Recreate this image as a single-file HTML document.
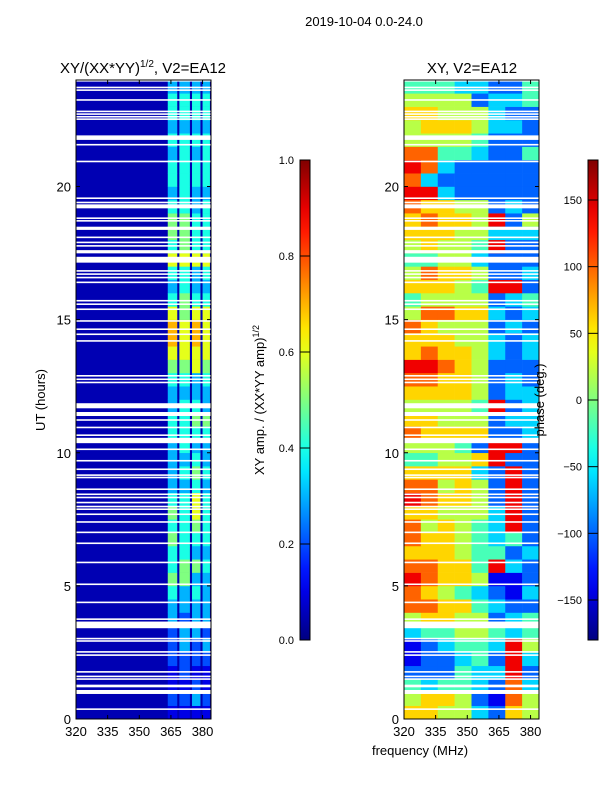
<!DOCTYPE html>
<html><head><meta charset="utf-8">
<style>
html,body{margin:0;padding:0;background:#fff;}
svg text{font-family:"Liberation Sans",sans-serif;fill:#000;}
</style></head>
<body>
<svg id="fig" width="600" height="800" viewBox="0 0 600 800" xmlns="http://www.w3.org/2000/svg">
<rect x="0" y="0" width="600" height="800" fill="#fff"/>
<text x="364" y="26" font-size="13" text-anchor="middle">2019-10-04 0.0-24.0</text>
<g id="amp"></g>
<g id="phs"></g>
<g id="cb1"></g>
<g id="cb2"></g>
<text x="143" y="73" font-size="15" text-anchor="middle">XY/(XX*YY)<tspan font-size="10" dy="-6">1/2</tspan><tspan dy="6">, V2=EA12</tspan></text>
<text x="472" y="73" font-size="15" text-anchor="middle">XY, V2=EA12</text>
<text transform="translate(45,400) rotate(-90)" font-size="13" text-anchor="middle">UT (hours)</text>
<text transform="translate(264,400) rotate(-90)" font-size="13" text-anchor="middle">XY amp. / (XX*YY amp)<tspan font-size="9" dy="-5">1/2</tspan></text>
<text transform="translate(544,400) rotate(-90)" font-size="13" text-anchor="middle">phase (deg.)</text>
<text x="420" y="755" font-size="13" text-anchor="middle">frequency (MHz)</text>
</svg>
<script>
// ---- data ----
const xTicks = [320, 335, 350, 365, 380];
const yTicks = [0, 5, 10, 15, 20];
const ampTicks = [0.0, 0.2, 0.4, 0.6, 0.8, 1.0];
const phaseTicks = [-150, -100, -50, 0, 50, 100, 150];
const subBands = [[363.5, 368], [369, 374], [375, 379], [380, 383.5]];
const backgroundAmp = 0.05;
// half-hour rows from 0h upward; 4 digits = amp*10 in each sub-band
const ampRows = ["1111","2232","1121","1211","2222","2323","2332","3233","3333","4343",
"5533","4554","4433","5444","4454","5464","4464","3343","3454","3343",
"3433","4444","4455","3443","3333","4434","5565","6666","7676","7676",
"6566","4544","3433","4434","6666","4544","5544","5544","4434","3433",
"4444","4444","3434","4444","3333","4444","4444","3333"];
// half-hour rows, 8 freq columns of 8 MHz; digit d -> phase -180+40d
const phaseRows = ["66553265","56652175","43443273","22243382","12234283","12344385","34455434","56655234",
"77664322","76543213","87665112","77664832","66654423","76654342","75654382","66555382",
"87665282","77565282","66663282","44556822","55542882","76666223","66555233","55554823",
"66665233","77665232","88765222","67665323","66655323","76555232","57766323","45555234",
"66654882","57665223","44553222","56554822","66655333","67665825","76655232","88322222",
"73222222","87322222","77443224","55554222","56665332","66555322","55552334","44433224"];
// white gaps (flagged data): start hour and duration
const gapHours = [23.94,23.69,23.59,23.22,22.79,22.69,22.59,22.5,21.86,21.75,21.54,20.91,19.53,19.37,19.18,18.78,18.68,18.37,18.06,17.87,17.74,17.49,17.14,16.8,16.68,16.55,16.37,15.68,15.55,15.36,14.92,14.61,14.42,14.17,12.86,12.73,12.61,11.8,11.67,11.38,11.2,10.92,10.63,10.36,10.1,9.67,9.35,9.13,9.04,8.6,8.41,8.29,8.1,7.95,7.85,7.66,7.37,6.98,6.57,5.85,5.03,4.35,3.72,3.41,2.99,2.9,2.49,2.37,1.74,1.57,1.47,1.19,0.94,0.34];
const gapDur = [0.06,0.06,0.06,0.06,0.06,0.06,0.06,0.06,0.06,0.12,0.06,0.06,0.06,0.06,0.15,0.06,0.06,0.12,0.06,0.06,0.06,0.12,0.22,0.06,0.06,0.06,0.06,0.06,0.06,0.06,0.06,0.06,0.06,0.06,0.06,0.06,0.06,0.06,0.15,0.15,0.06,0.06,0.06,0.2,0.06,0.06,0.06,0.06,0.06,0.06,0.06,0.06,0.06,0.06,0.06,0.06,0.06,0.06,0.06,0.06,0.06,0.06,0.06,0.25,0.06,0.06,0.06,0.06,0.06,0.06,0.06,0.1,0.15,0.06];

// ---- helpers ----
const NS = "http://www.w3.org/2000/svg";
function jet(t){
  t = Math.max(0, Math.min(1, t));
  const st = [[0,0,0,128],[0.125,0,0,255],[0.375,0,255,255],[0.625,255,255,0],[0.875,255,0,0],[1,128,0,0]];
  for (let i=1;i<st.length;i++){ if (t<=st[i][0]){ const a=st[i-1], b=st[i], f=(t-a[0])/(b[0]-a[0]);
    return "rgb("+Math.round(a[1]+f*(b[1]-a[1]))+","+Math.round(a[2]+f*(b[2]-a[2]))+","+Math.round(a[3]+f*(b[3]-a[3]))+")"; } }
  return "rgb(128,0,0)";
}
function mk(tag, attrs, parent){ const e=document.createElementNS(NS,tag); for(const k in attrs) e.setAttribute(k,attrs[k]); parent.appendChild(e); return e; }
const Y0=719, Y1=80;
function yS(h){ return Y0 + (Y1-Y0)*h/24; }
function xS(left){ return f => left + (f-320)*(135/64); }

function axes(g, left, name){
  const x = xS(left);
  mk("rect",{x:left,y:Y1,width:135,height:Y0-Y1,fill:"none",stroke:"#000","stroke-width":1},g);
  xTicks.forEach(v=>{
    const l=mk("line",{x1:x(v),x2:x(v),y1:Y0,y2:Y0-4,stroke:"#000"},g);
    
    
    const l2=mk("line",{x1:x(v),x2:x(v),y1:Y1,y2:Y1+4,stroke:"#000"},g);
    
    
    const t=mk("text",{x:x(v),y:736,"font-size":13,"text-anchor":"middle"},g); t.textContent=v;
    
    
  });
  yTicks.forEach(v=>{
    const l=mk("line",{x1:left,x2:left+4,y1:yS(v),y2:yS(v),stroke:"#000"},g);
    
    
    const l2=mk("line",{x1:left+135,x2:left+131,y1:yS(v),y2:yS(v),stroke:"#000"},g);
    
    
    const t=mk("text",{x:left-5,y:yS(v)+5,"font-size":13,"text-anchor":"end"},g); t.textContent=v;
    
    
  });
}
function gaps(g, left){
  gapHours.forEach((h,i)=>{
    const r=mk("rect",{x:left,y:yS(h+gapDur[i]),width:135,height:Math.max(1.3,yS(h)-yS(h+gapDur[i])),fill:"#fff"},g);
    
    
  });
}

// ---- amplitude panel ----
(function(){
  const g=document.getElementById("amp"), left=76, x=xS(left);
  const bg=mk("rect",{x:left,y:Y1,width:135,height:Y0-Y1,fill:jet(backgroundAmp)},g);
  
  
  ampRows.forEach((row,i)=>{
    const h0=i*0.5, h1=h0+0.5;
    subBands.forEach((b,j)=>{
      const v=parseInt(row[j])/10;
      const r=mk("rect",{x:x(b[0]),y:yS(h1),width:x(b[1])-x(b[0]),height:yS(h0)-yS(h1)+0.3,fill:jet(v)},g);
      
      
    });
  });
  gaps(g,left);
  axes(g,left,"amplitude");
})();

// ---- phase panel ----
(function(){
  const g=document.getElementById("phs"), left=404, x=xS(left);
  phaseRows.forEach((row,i)=>{
    const h0=i*0.5, h1=h0+0.5;
    for(let j=0;j<8;j++){
      const ph=-180+40*parseInt(row[j]);
      const f0=320+8*j;
      const r=mk("rect",{x:x(f0),y:yS(h1),width:x(f0+8)-x(f0)+0.3,height:yS(h0)-yS(h1)+0.3,fill:jet((ph+180)/360)},g);
      
      
    }
  });
  gaps(g,left);
  axes(g,left,"phase");
})();

// ---- colorbars ----
function colorbar(id, cx, ticks, lo, hi, name, fmt){
  const g=document.getElementById(id), top=160, bot=640, w=10;
  const defs=mk("defs",{},g);
  const lg=mk("linearGradient",{id:id+"g",x1:0,y1:1,x2:0,y2:0},defs);
  for(let i=0;i<=20;i++){ mk("stop",{offset:i/20,"stop-color":jet(i/20)},lg); }
  mk("rect",{x:cx,y:top,width:w,height:bot-top,fill:"url(#"+id+"g)",stroke:"#000","stroke-width":1},g);
  ticks.forEach(v=>{
    const y=bot-(v-lo)/(hi-lo)*(bot-top);
    const l=mk("line",{x1:cx,x2:cx+w,y1:y,y2:y,stroke:"#000"},g);
    
    
    const t=mk("text",{x:cx-6,y:y+4,"font-size":11,"text-anchor":"end"},g); t.textContent=fmt(v);
    
    
  });
}
colorbar("cb1",300,ampTicks,0,1,"amplitude-colorbar",v=>v.toFixed(1));
colorbar("cb2",588,phaseTicks,-180,180,"phase-colorbar",v=>v<0?"\u2212"+Math.abs(v):String(v));
</script>
</body></html>
